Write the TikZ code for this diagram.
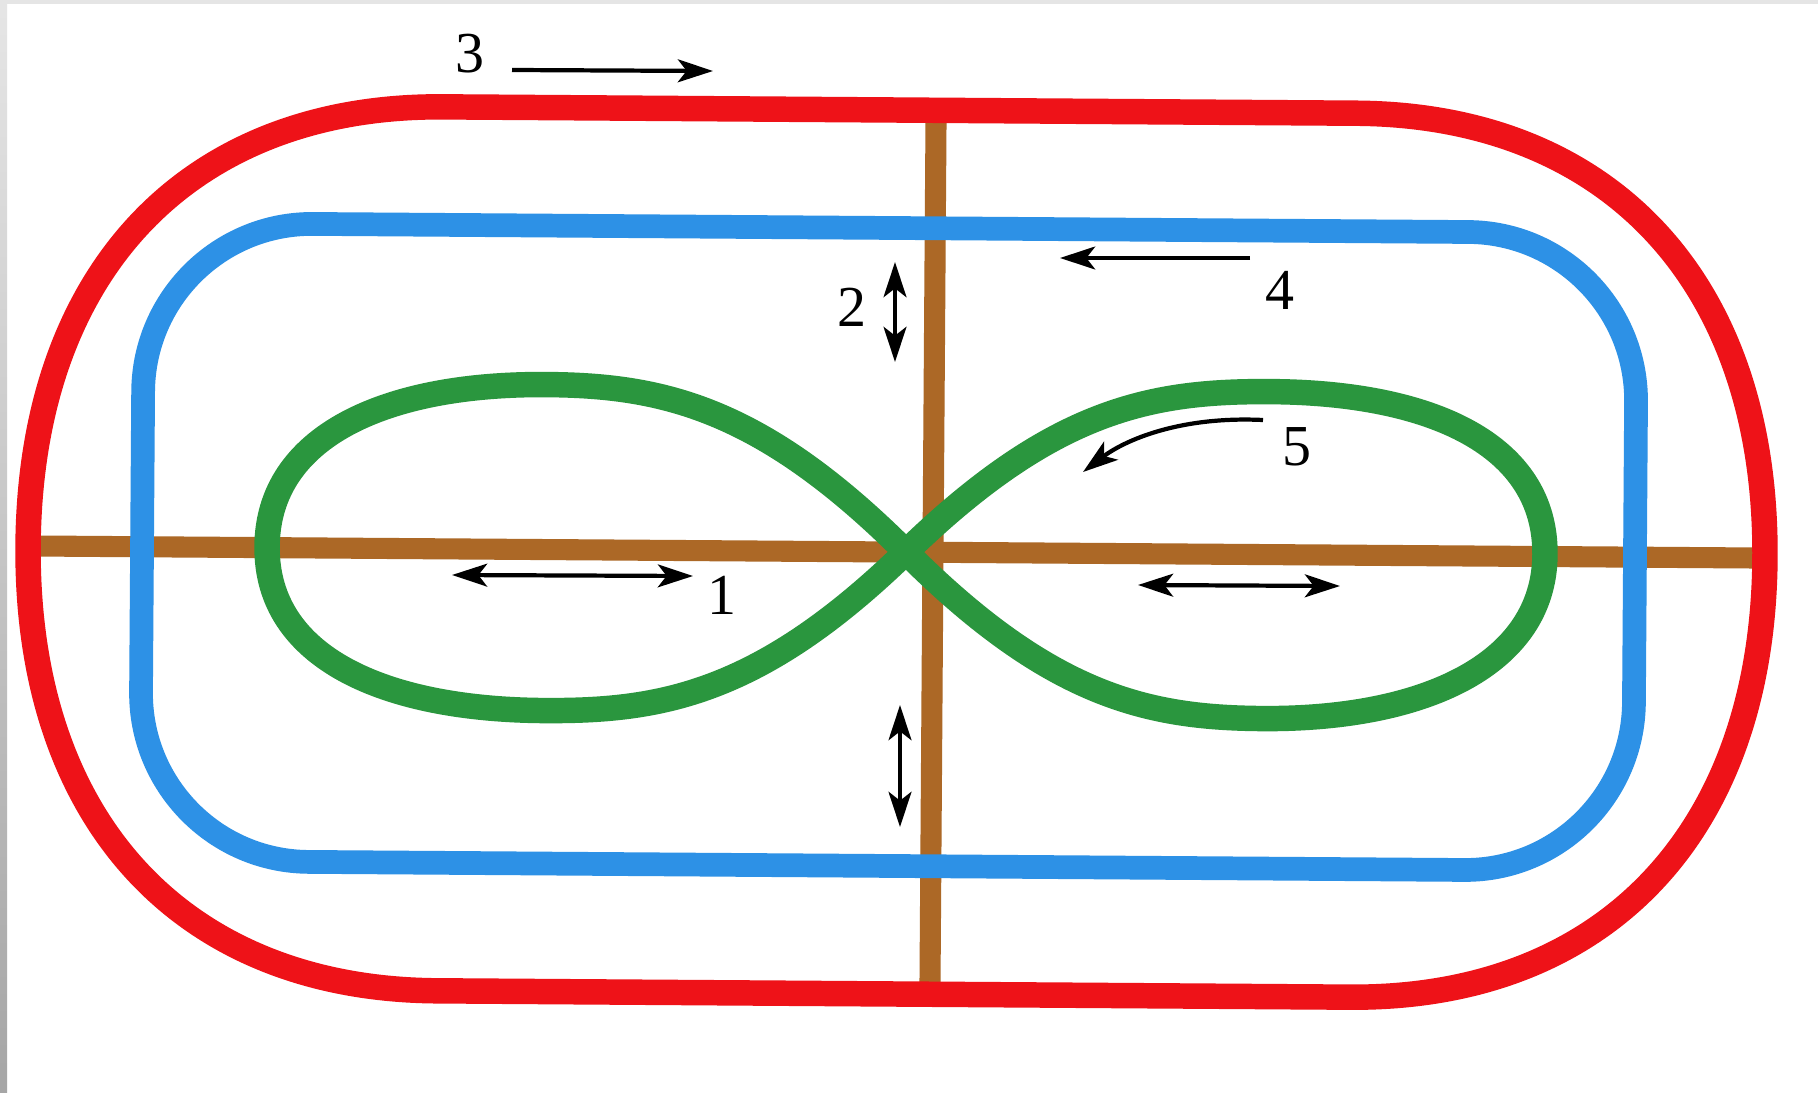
\documentclass[tikz,border=0pt]{standalone}
\usepackage{fontspec}
\setmainfont{Liberation Serif}
\usetikzlibrary{arrows.meta}
\definecolor{trackred}{RGB}{238,18,24}
\definecolor{trackblue}{RGB}{45,145,230}
\definecolor{trackbrown}{RGB}{172,104,38}
\definecolor{trackgreen}{RGB}{42,150,62}
\tikzset{
  redline/.style={draw=trackred,line width=14.5pt},
  blueline/.style={draw=trackblue,line width=13.5pt},
  brownline/.style={draw=trackbrown,line width=12pt},
  greenline/.style={draw=trackgreen,line width=14.5pt},
  arr/.style={line width=2.4pt,-{Stealth[length=20pt,width=13pt,inset=5pt]}},
  darr/.style={line width=2.4pt,{Stealth[length=20pt,width=13pt,inset=5pt]}-{Stealth[length=20pt,width=13pt,inset=5pt]}},
  lbl/.style={inner sep=0pt,font=\fontsize{33}{40}\selectfont}
}
\begin{document}
\begin{tikzpicture}[x=0.02cm,y=-0.02cm]
\useasboundingbox (0,0) rectangle (1818,1092);
\fill[white] (0,0) rectangle (1818,1092);
\fill[black!10] (0,0) rectangle (1818,4);
\shade[top color=black!10,bottom color=black!35] (0,0) rectangle (7,1092);
\begin{scope}[rotate around={-0.4:(896,552)}]
  % brown cross
  \draw[brownline] (28,552) -- (1765,552);
  \draw[brownline] (933,110) -- (933,994);
  % blue track
  \draw[blueline,rounded corners=96pt] (142,228) rectangle (1635,866);
  % red track
  \draw[redline] (440,110) -- (1353,110)
     .. controls (1608,110) and (1765,278) .. (1765,552)
     .. controls (1765,826) and (1608,994) .. (1353,994)
     -- (440,994)
     .. controls (185,994) and (28,826) .. (28,552)
     .. controls (28,278) and (185,110) .. (440,110) -- cycle;
  % green figure eight
  \coordinate (C) at (906,552);
  \draw[greenline] (C)
     .. controls (760,408) and (660,387) .. (545,387)
     .. controls (385,387) and (267,440) .. (267,551)
     .. controls (267,662) and (385,713) .. (545,713)
     .. controls (660,713) and (760,696) .. (C)
     .. controls (1052,408) and (1150,389) .. (1270,389)
     .. controls (1430,389) and (1545,440) .. (1545,550)
     .. controls (1545,660) and (1425,716) .. (1264,716)
     .. controls (1150,716) and (1052,696) .. (C);
\end{scope}
% labels and arrows
\node[lbl] (n3) at (470,54) {3};
\coordinate (a3s) at (512,70);
\coordinate (a3e) at (713,71);
\draw[arr] (a3s) -- (a3e);

\node[lbl] (n2) at (852,307) {2};
\coordinate (a2s) at (895,262);
\coordinate (a2e) at (895,362);
\draw[darr] (a2s) -- (a2e);

\node[lbl] (n4) at (1280,290) {4};
\coordinate (a4s) at (1250,258);
\coordinate (a4e) at (1060,258);
\draw[arr] (a4s) -- (a4e);

\node[lbl] (n5) at (1297,447) {5};
\coordinate (a5s) at (1263,420);
\coordinate (a5e) at (1083,472);
\draw[arr] (a5s) .. controls (1180,416) and (1125,440) .. (a5e);

\node[lbl] (n1) at (722,595) {1};
\coordinate (a1s) at (452,575);
\coordinate (a1e) at (693,576);
\draw[darr] (a1s) -- (a1e);

\coordinate (a6s) at (1138,585);
\coordinate (a6e) at (1340,586);
\draw[darr] (a6s) -- (a6e);

\coordinate (a7s) at (900,705);
\coordinate (a7e) at (900,827);
\draw[darr] (a7s) -- (a7e);
\end{tikzpicture}
\end{document}
